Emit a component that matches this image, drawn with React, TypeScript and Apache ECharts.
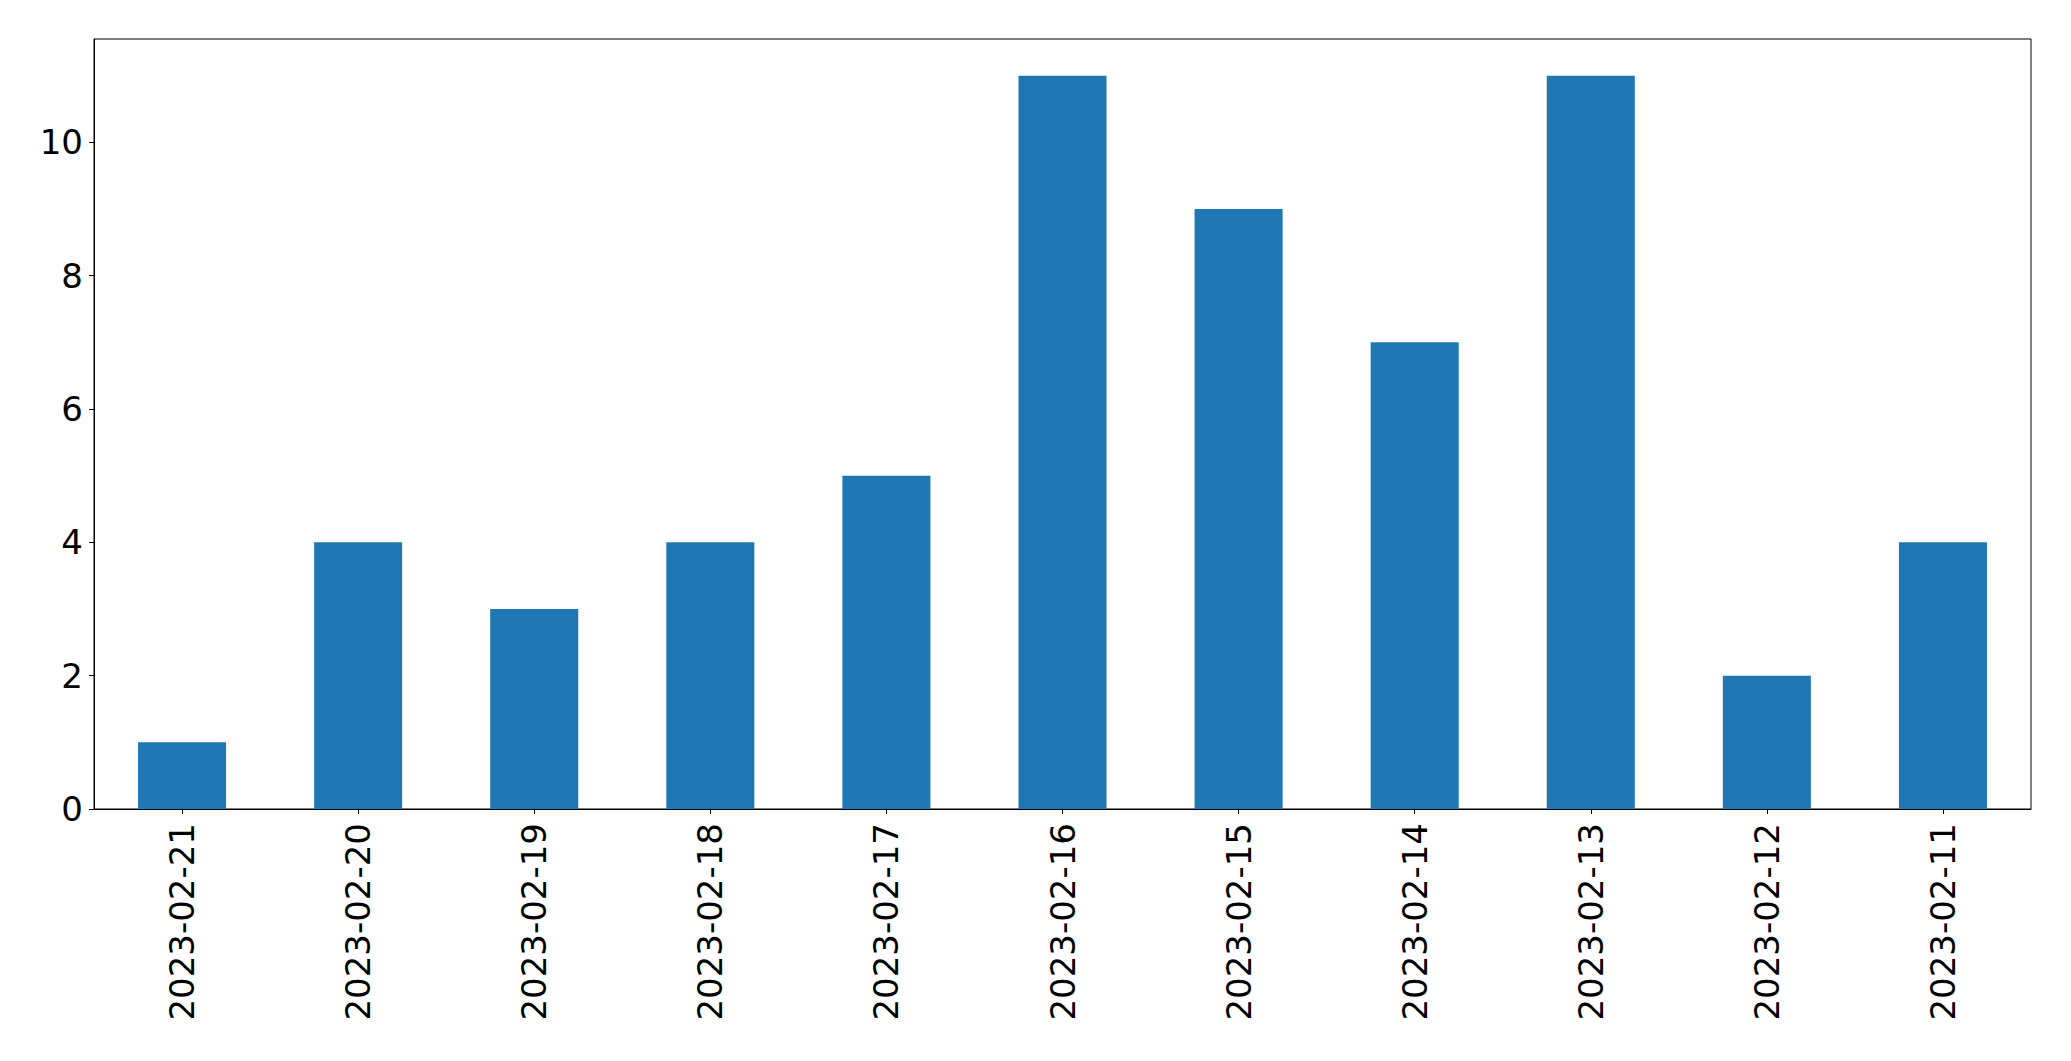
import React, { useEffect, useRef } from "react";
import * as echarts from "echarts";

const categories = [
  "2023-02-21", "2023-02-20", "2023-02-19", "2023-02-18", "2023-02-17", "2023-02-16",
  "2023-02-15", "2023-02-14", "2023-02-13", "2023-02-12", "2023-02-11",
];
const values = [1, 4, 3, 4, 5, 11, 9, 7, 11, 2, 4];
const yTicks = [0, 2, 4, 6, 8, 10];

export default function App() {
  const ref = useRef<HTMLDivElement>(null);
  useEffect(() => {
    if (!ref.current) return;
    const chart = echarts.init(ref.current, null, { renderer: "svg" });
    const font = "DejaVu Sans";
    chart.setOption({
      animation: false,
      backgroundColor: "#ffffff",
      grid: {
        left: 94, top: 39, right: 40, bottom: 252,
        show: true, borderColor: "#000000", borderWidth: 1,
      },
      xAxis: {
        type: "category",
        data: categories,
        axisLine: { show: true, lineStyle: { color: "#000000", width: 1 } },
        axisTick: { show: true, alignWithLabel: true, length: 5, lineStyle: { color: "#000000" } },
        axisLabel: {
          rotate: 90, margin: 14, color: "#000000", fontSize: 34, fontFamily: font, interval: 0,
        },
        splitLine: { show: false },
      },
      yAxis: {
        type: "value",
        min: 0,
        max: 11.55,
        interval: 2,
        axisLine: { show: true, lineStyle: { color: "#000000", width: 1 } },
        axisTick: { show: true, length: 5, lineStyle: { color: "#000000" }, customValues: yTicks },
        axisLabel: { margin: 11, color: "#000000", fontSize: 34, fontFamily: font, customValues: yTicks },
        splitLine: { show: false },
      },
      series: [
        {
          type: "bar",
          data: values,
          barWidth: "50%",
          itemStyle: { color: "#1f77b4" },
        },
      ],
    });
    return () => chart.dispose();
  }, []);
  return (
    <div
      ref={ref}
      style={{ position: "fixed", left: 0, top: 0, width: 2071, height: 1061, background: "#fff" }}
    />
  );
}
